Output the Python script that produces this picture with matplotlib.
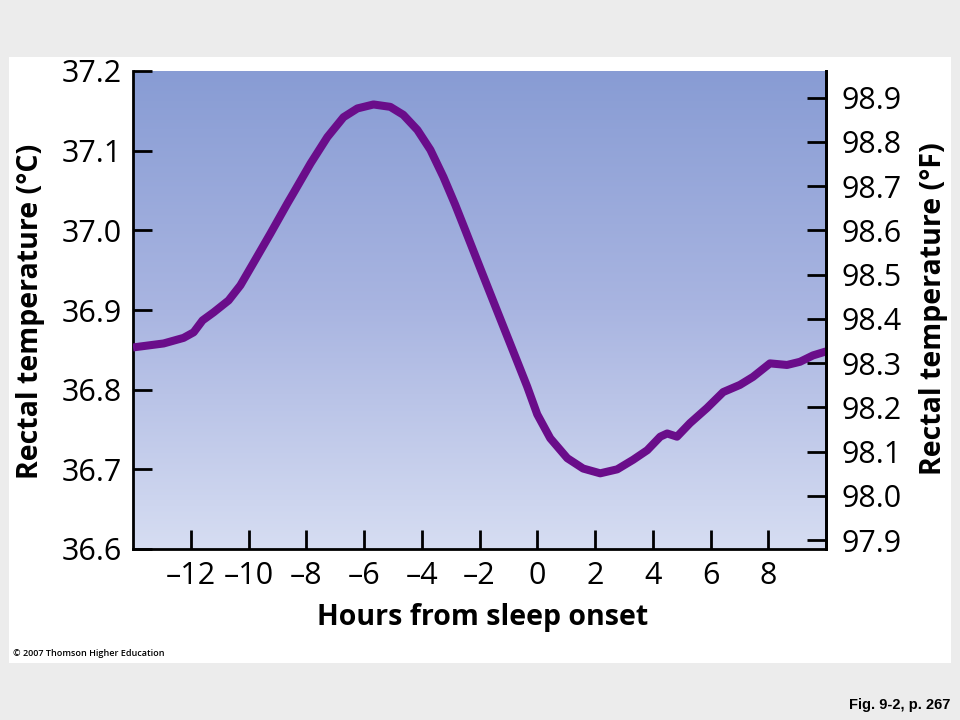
import numpy as np
import matplotlib
matplotlib.use('Agg')
import matplotlib.pyplot as plt
from matplotlib.colors import LinearSegmentedColormap
from matplotlib.patches import Rectangle

# values
hours = [-14.0, -12.94, -12.25, -11.9, -11.59, -11.21, -10.69, -10.28, -9.83,
         -9.24, -8.65, -8.44, -7.85, -7.27, -6.71, -6.23, -5.67, -5.09, -4.64,
         -4.15, -3.7, -3.25, -2.84, -2.49, -1.97, -1.38, -0.93, -0.35, 0.0,
         0.45, 1.04, 1.59, 2.18, 2.77, 3.32, 3.81, 4.26, 4.5, 4.84,
         5.29, 5.88, 6.44, 7.02, 7.47, 8.06, 8.65, 9.1, 9.55, 10.0]
temp_c = [36.853, 36.858, 36.865, 36.872, 36.887, 36.897, 36.912, 36.931,
          36.959, 36.996, 37.034, 37.047, 37.084, 37.117, 37.142, 37.153,
          37.158, 37.155, 37.145, 37.126, 37.101, 37.067, 37.032, 37.000,
          36.952, 36.898, 36.857, 36.804, 36.769, 36.739, 36.714,
          36.701, 36.695, 36.700, 36.712, 36.724, 36.741, 36.745, 36.741,
          36.758, 36.777, 36.797, 36.806, 36.816, 36.833, 36.831, 36.835,
          36.843, 36.848]

x_ticks = [-12, -10, -8, -6, -4, -2, 0, 2, 4, 6, 8]
c_ticks = [36.6, 36.7, 36.8, 36.9, 37.0, 37.1, 37.2]
f_ticks = [97.9, 98.0, 98.1, 98.2, 98.3, 98.4, 98.5, 98.6, 98.7, 98.8, 98.9]

plt.rcParams['font.family'] = ['Open Sans', 'DejaVu Sans']

fig = plt.figure(figsize=(9.6, 7.2), dpi=100)
fig.patch.set_facecolor('#ececec')

# white slide panel (behind the axes)
fig.patches.append(Rectangle((9 / 960, 57 / 720), 942 / 960, 606 / 720,
                             transform=fig.transFigure, facecolor='white',
                             edgecolor='none', zorder=-5))

ax = fig.add_axes([133 / 960, 171 / 720, 693 / 960, 478 / 720])
ax.set_xlim(-14, 10)
ax.set_ylim(36.6, 37.2)

# blue vertical gradient behind the curve
cmap = LinearSegmentedColormap.from_list('bg', ['#d6ddf2', '#a9b5e1', '#889cd4'])
grad = np.linspace(0, 1, 256).reshape(-1, 1)
ax.imshow(grad, cmap=cmap, origin='lower', aspect='auto',
          extent=[0, 1, 0, 1], transform=ax.transAxes, zorder=0)

ax.plot(hours, temp_c, color='#6a0d8a', lw=5.8, solid_joinstyle='round',
        solid_capstyle='butt', zorder=3)

ax.spines['top'].set_visible(False)
for s in ['left', 'bottom', 'right']:
    ax.spines[s].set_linewidth(2)

ax.set_xticks(x_ticks)
ax.set_xticklabels([str(t).replace('-', '\u2013') for t in x_ticks])
ax.set_yticks(c_ticks)
ax.set_yticklabels([f'{t:.1f}' for t in c_ticks])
ax.tick_params(axis='both', direction='in', length=14, width=2,
               labelsize=22, colors='black')
ax.tick_params(axis='y', pad=8)
ax.tick_params(axis='x', pad=9)

ax2 = ax.twinx()
ax2.set_ylim(36.6 * 1.8 + 32, 37.2 * 1.8 + 32)
ax2.set_yticks(f_ticks)
ax2.set_yticklabels([f'{t:.1f}' for t in f_ticks])
ax2.tick_params(axis='y', direction='in', length=14, width=2,
                labelsize=22, pad=11)
for s in ['top', 'left', 'bottom']:
    ax2.spines[s].set_visible(False)
ax2.spines['right'].set_linewidth(2)

fig.text(31 / 960, 1 - 311 / 720, 'Rectal temperature (\u00b0C)', rotation=90,
         ha='center', va='center', fontsize=20.5, fontweight='bold')
fig.text(933 / 960, 1 - 309 / 720, 'Rectal temperature (\u00b0F)', rotation=90,
         ha='center', va='center', fontsize=20.5, fontweight='bold')
fig.text(483 / 960, 1 - 618 / 720, 'Hours from sleep onset',
         ha='center', va='center', fontsize=20.5, fontweight='bold')

fig.text(13 / 960, 1 - 654 / 720, '\u00a9 2007 Thomson Higher Education',
         ha='left', va='center', fontsize=6.5, fontweight='semibold')
fig.text(950 / 960, 1 - 705 / 720, 'Fig. 9-2, p. 267', family='Liberation Sans',
         ha='right', va='center', fontsize=10.5, fontweight='bold')

fig.savefig('out.png', dpi=100, facecolor=fig.get_facecolor())
